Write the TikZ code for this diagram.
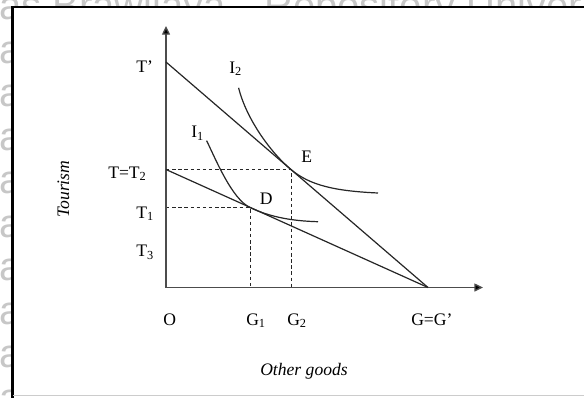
\documentclass[tikz,border=0pt]{standalone}
\usepackage{fontspec}
\setmainfont{Liberation Serif}
\newfontfamily\wmfont{Liberation Sans}
\usetikzlibrary{arrows.meta}
\begin{document}
\begin{tikzpicture}[x=0.75pt,y=-0.75pt,
  lbl/.style={inner sep=0pt, anchor=base west, font=\fontsize{13.2}{15}\selectfont},
  ilbl/.style={inner sep=0pt, anchor=base west, font=\fontsize{13.2}{15}\selectfont\itshape},
  wm/.style={inner sep=0pt, anchor=base west, text=black!22, font=\wmfont\fontsize{30}{36}\selectfont},
  axisline/.style={line width=1pt, draw=black!70, -{Triangle[length=6.5pt,width=6pt,fill=black]}},
  budget/.style={line width=0.9pt, draw=black!85},
  icurve/.style={line width=0.9pt, draw=black!85},
  guide/.style={line width=0.75pt, draw=black!85, dash pattern=on 2.6pt off 2pt},
  frameline/.style={line width=1.6pt, draw=black}]
\useasboundingbox (0,0) rectangle (584,397);
% watermark (only the parts outside the frame show)
\begin{scope}
  \clip (0,0) rectangle (584,397);
  \node[wm] (wmA) at (-1,19.5) {as Brawijaya};
  \node[wm] (wmB) at (264,19.5) {Repository Univers};
  \foreach \yy in {63,106.5,150,193.5,237,280.5,324,367.5,411} {
    \node[wm] at (-1,\yy) {a};
  }
\end{scope}
\fill[white] (12.5,7) rectangle (590,400);
% frame
\draw[frameline] (12.5,398) -- (12.5,7) -- (590,7);
\draw[line width=0.8pt, draw=black!20] (13,395.5) -- (590,395.5);
% key points
\coordinate (O) at (166,287.5);
\coordinate (Ytop) at (166,26);
\coordinate (Xend) at (483,287.5);
\coordinate (Tp) at (166,62);
\coordinate (T2) at (166,169.5);
\coordinate (T1) at (166,207.5);
\coordinate (G) at (428,287.5);
\coordinate (E) at (291,169.5);
\coordinate (D) at (250,207.5);
\coordinate (G1) at (250,287.5);
\coordinate (G2) at (291,287.5);
% guides
\draw[guide] (T2) -- (E) -- (G2);
\draw[guide] (T1) -- (D) -- (G1);
% axes
\draw[axisline] (O) -- (Ytop);
\draw[axisline] (O) -- (Xend);
% budget lines
\draw[budget] (Tp) -- (G);
\draw[budget] (T2) -- (G);
% indifference curves
\draw[icurve] (238.6,87.8) .. controls (246,118) and (270,152) .. (E)
  .. controls (310,185.5) and (335,191) .. (378,193);
\draw[icurve] (206.6,140.6) .. controls (216,160) and (232,199) .. (D)
  .. controls (270,217) and (292,221) .. (318,221.7);
% labels
\node[lbl] (lTp) at (136,72) {T’};
\node[lbl] (lT2) at (108,178) {T=T\textsubscript{2}};
\node[lbl] (lT1) at (136,218.3) {T\textsubscript{1}};
\node[lbl] (lT3) at (136,256.7) {T\textsubscript{3}};
\node[lbl] (lI2) at (229,73) {I\textsubscript{2}};
\node[lbl] (lI1) at (191,137.8) {I\textsubscript{1}};
\node[lbl] (lE) at (301,162.5) {E};
\node[lbl] (lD) at (259.5,204) {D};
\node[lbl] (lO) at (163,325) {O};
\node[lbl] (lG1) at (246,325) {G\textsubscript{1}};
\node[lbl] (lG2) at (287,325) {G\textsubscript{2}};
\node[lbl] (lG) at (411,325) {G=G’};
\node[ilbl] (xl) at (260,375) {Other goods};
\node[ilbl, rotate=90] (yl) at (69,218) {Tourism};
\end{tikzpicture}
\end{document}
